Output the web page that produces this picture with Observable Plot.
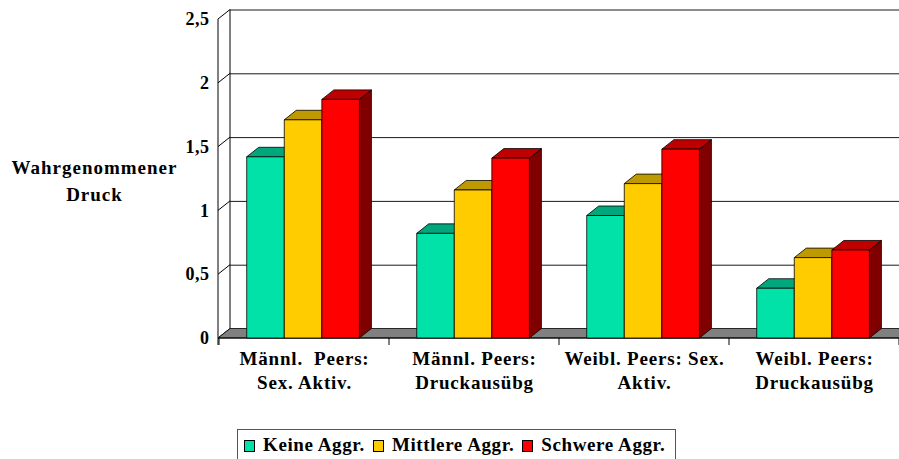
<!DOCTYPE html>
<html>
<head>
<meta charset="utf-8">
<script src="https://cdn.jsdelivr.net/npm/d3@7"></script>
<script src="https://cdn.jsdelivr.net/npm/@observablehq/plot@0.6"></script>
<style>
  html, body { margin: 0; padding: 0; background: #fff; }
  #wrap { position: relative; width: 899px; height: 459px; overflow: hidden;
          font-family: "Liberation Serif", "Times New Roman", serif; font-weight: bold; }
  #chart { position: absolute; left: 0; top: 0; }
  #chart g[aria-label="x-axis tick label"] { letter-spacing: 0.8px; }
  #chart g[aria-label="text"] { letter-spacing: 1px; }
  #chart g[aria-label="y-axis tick label"] { letter-spacing: 0.5px; }
  #legend { position: absolute; left: 237px; top: 429px; width: 439px; height: 40px; box-sizing: border-box;
            border: 1px solid #555; padding: 0 6px; display: flex; align-items: flex-start;
            font-size: 19px; line-height: 19px; white-space: nowrap; background: #fff; letter-spacing: 0.6px; }
  #legend .item { display: flex; align-items: center; margin-top: 5px; margin-right: 8px; }
  #legend .sw { width: 9px; height: 10px; border: 1px solid #000; margin-right: 8px; margin-top: 2px; }
</style>
</head>
<body>
<div id="wrap">
  <div id="chart"></div>
  <div id="legend"></div>
</div>
<script>
// ---- data ----
const categories = [
  "Männl.\u00a0 Peers:\nSex. Aktiv.",
  "Männl. Peers:\nDruckausübg",
  "Weibl. Peers: Sex.\nAktiv.",
  "Weibl. Peers:\nDruckausübg"
];
const series = ["Keine Aggr.", "Mittlere Aggr.", "Schwere Aggr."];
const keine    = [1.42, 0.82, 0.96, 0.39];
const mittlere = [1.71, 1.16, 1.21, 0.63];
const schwere  = [1.87, 1.41, 1.48, 0.69];
const yTicks = [0, 0.5, 1, 1.5, 2, 2.5];
const yTitle = "Wahrgenommener\nDruck";

// ---- styles ----
const frontColors = ["#00E2A8", "#FFCC00", "#FF0000"];
const topColors   = ["#00A77C", "#BF9900", "#BF0000"];
const sideColors  = ["#007F5E", "#806600", "#800000"];
const DEPTH = { dx: 12, dy: -9.5 };
const GROUP = { offset: 0.163, bar: 0.221 };

const valuesBySeries = [keine, mittlere, schwere];
const rows = categories.flatMap((c, i) =>
  series.map((s, j) => ({ category: c, series: s, j, value: valuesBySeries[j][i] })));

function poly(g, pts, fill) {
  g.append("path")
    .attr("d", "M" + pts.map(p => p.join(",")).join("L") + "Z")
    .attr("fill", fill)
    .attr("stroke", "#000")
    .attr("stroke-width", 0.8)
    .attr("stroke-linejoin", "round");
}

// walls, floor, diagonals and category ticks drawn through Plot's scales
function walls(index, { x, y }, values, dims) {
  const g = d3.create("svg:g");
  const x0 = dims.marginLeft, x1 = dims.width - dims.marginRight;
  const { dx, dy } = DEPTH;
  const y0 = y(0), yTop = y(yTicks[yTicks.length - 1]);
  g.append("line").attr("x1", x0 + dx).attr("x2", x0 + dx)
    .attr("y1", yTop + dy).attr("y2", y0 + dy).attr("stroke", "#000");
  for (const t of yTicks) {
    g.append("line").attr("x1", x0).attr("y1", y(t))
      .attr("x2", x0 + dx).attr("y2", y(t) + dy).attr("stroke", "#000");
  }
  poly(g, [[x0, y0], [x1, y0], [x1 + dx, y0 + dy], [x0 + dx, y0 + dy]], "#808080");
  g.append("line").attr("x1", x0).attr("x2", x0).attr("y1", yTop).attr("y2", y0 + 7)
    .attr("stroke", "#000");
  g.append("line").attr("x1", x0).attr("x2", x1).attr("y1", y0).attr("y2", y0)
    .attr("stroke", "#000");
  const bw = x.bandwidth();
  const bounds = categories.map(c => x(c)).concat([x(categories[categories.length - 1]) + bw]);
  for (const b of bounds) {
    g.append("line").attr("x1", b).attr("x2", b).attr("y1", y0).attr("y2", y0 + 7)
      .attr("stroke", "#000");
  }
  return g.node();
}

function bars(index, { x, y }) {
  const g = d3.create("svg:g");
  const bw = x.bandwidth();
  const { dx, dy } = DEPTH;
  for (const r of rows) {
    const xl = x(r.category) + bw * (GROUP.offset + GROUP.bar * r.j);
    const xr = xl + bw * GROUP.bar;
    const yt = y(r.value), yb = y(0);
    poly(g, [[xr, yb], [xr + dx, yb + dy], [xr + dx, yt + dy], [xr, yt]], sideColors[r.j]);
    poly(g, [[xl, yt], [xr, yt], [xr + dx, yt + dy], [xl + dx, yt + dy]], topColors[r.j]);
    poly(g, [[xl, yb], [xr, yb], [xr, yt], [xl, yt]], frontColors[r.j]);
  }
  return g.node();
}

const chart = Plot.plot({
  width: 899,
  height: 459,
  marginLeft: 218,
  marginRight: 0,
  marginTop: 19,
  marginBottom: 121,
  x: { type: "band", domain: categories, padding: 0 },
  y: { type: "linear", domain: [0, 2.5] },
  style: { fontFamily: "'Liberation Serif', 'Times New Roman', serif", fontWeight: "bold",
           fontSize: "18px", color: "#000", background: "transparent", overflow: "visible" },
  marks: [
    Plot.gridY(yTicks.filter(t => t > 0), { dx: DEPTH.dx, dy: DEPTH.dy, stroke: "#000",
      strokeOpacity: 0.9, strokeWidth: 1 }),
    walls,
    bars,
    Plot.axisY({ ticks: yTicks, tickFormat: d => String(d).replace(".", ","),
      tickSize: 0, tickPadding: 9, fontSize: 18, fontWeight: "bold", label: null }),
    Plot.axisX({ tickSize: 0, tickPadding: 8.5, fontSize: 19, fontWeight: "bold",
      lineHeight: 1.3, label: null }),
    Plot.text([yTitle], { frameAnchor: "top-left", dx: -124, dy: 135.5, textAnchor: "middle",
      lineAnchor: "top", fontSize: 19, fontWeight: "bold", lineHeight: 1.42 })
  ]
});
document.getElementById("chart").appendChild(chart);

// legend
const legend = d3.select("#legend");
series.forEach((s, j) => {
  const item = legend.append("div").attr("class", "item");
  item.append("div").attr("class", "sw").style("background", frontColors[j]);
  item.append("span").text(s);
});
</script>
</body>
</html>
